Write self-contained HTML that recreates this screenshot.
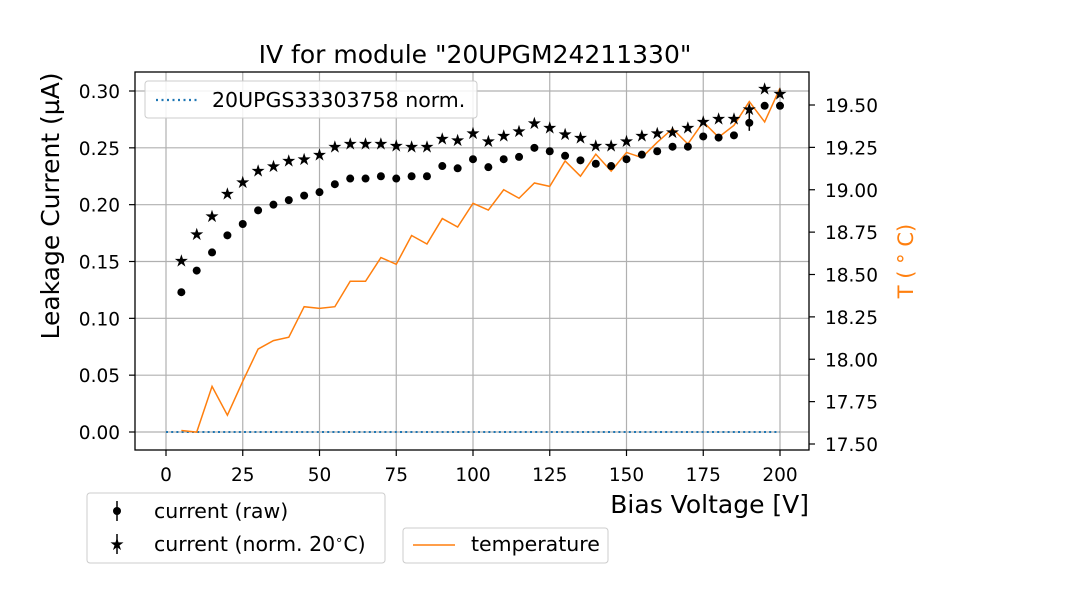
<!DOCTYPE html>
<html><head><meta charset="utf-8"><style>
body{margin:0;background:#fff;}
svg text{font-family:"DejaVu Sans","Liberation Sans",sans-serif;}
</style></head><body>
<svg id="chart" width="1080" height="600" xmlns="http://www.w3.org/2000/svg">
<g id="grid"></g>
<g id="marks"></g>
<g id="axes"></g>
<text x="475" y="63" font-size="25" text-anchor="middle">IV for module "20UPGM24211330"</text>
<text transform="translate(59,206) rotate(-90)" font-size="25" text-anchor="middle">Leakage Current (µA)</text>
<text transform="translate(913,261) rotate(-90)" font-size="21" fill="#ff7f0e" text-anchor="middle">T ( ° C)</text>
<text x="809" y="513" font-size="25" text-anchor="end">Bias Voltage [V]</text>
<g>
<rect x="145" y="81" width="332" height="37" rx="3" fill="#fff" fill-opacity="0.85" stroke="#ccc"/>
<line x1="156" y1="100" x2="198" y2="100" stroke="#1f77b4" stroke-width="2.2" stroke-dasharray="2,3.5"/>
<text x="212" y="107" font-size="20.5">20UPGS33303758 norm.</text>
</g>
<g>
<rect x="87" y="493" width="298" height="70" rx="3" fill="#fff" stroke="#ccc"/>
<line x1="117" y1="501" x2="117" y2="521" stroke="#000" stroke-width="1.5"/>
<circle cx="117" cy="511" r="4" fill="#000"/>
<text x="154" y="518" font-size="20.5">current (raw)</text>
<line x1="117" y1="534" x2="117" y2="554" stroke="#000" stroke-width="1.5"/>
<text x="117" y="550" font-size="17" text-anchor="middle">★</text>
<text x="154" y="551" font-size="20.5">current (norm. 20<tspan font-size="13" dy="-7">∘</tspan><tspan dy="7">C)</tspan></text>
</g>
<g>
<rect x="403" y="528" width="205" height="35" rx="3" fill="#fff" stroke="#ccc"/>
<line x1="413" y1="545" x2="455" y2="545" stroke="#ff7f0e" stroke-width="1.5"/>
<text x="471" y="551" font-size="20.5">temperature</text>
</g>
</svg>
<script>
const voltages=[5,10,15,20,25,30,35,40,45,50,55,60,65,70,75,80,85,90,95,100,105,110,115,120,125,130,135,140,145,150,155,160,165,170,175,180,185,190,195,200];
const rawCurrent=[0.123,0.142,0.158,0.173,0.183,0.195,0.200,0.204,0.208,0.211,0.218,0.223,0.223,0.225,0.223,0.225,0.225,0.234,0.232,0.240,0.233,0.240,0.242,0.250,0.247,0.243,0.239,0.236,0.234,0.240,0.244,0.247,0.251,0.251,0.260,0.259,0.261,0.272,0.287,0.287];
const normCurrent=[0.151,0.174,0.190,0.210,0.220,0.230,0.234,0.239,0.240,0.244,0.251,0.254,0.254,0.254,0.252,0.251,0.251,0.258,0.257,0.263,0.256,0.261,0.265,0.272,0.268,0.262,0.259,0.252,0.252,0.256,0.261,0.263,0.264,0.268,0.273,0.276,0.276,0.284,0.302,0.298];
const temperature=[17.58,17.57,17.84,17.67,17.87,18.06,18.11,18.13,18.31,18.30,18.31,18.46,18.46,18.60,18.56,18.73,18.68,18.83,18.78,18.92,18.88,19.00,18.95,19.04,19.02,19.17,19.08,19.21,19.11,19.22,19.19,19.28,19.36,19.27,19.40,19.31,19.38,19.52,19.40,19.60];
const refVoltages=[0,200];
const refCurrent=[0,0];
const xTicks=[0,25,50,75,100,125,150,175,200];
const yTicks=[0,0.05,0.10,0.15,0.20,0.25,0.30];
const y2Ticks=[17.5,17.75,18.0,18.25,18.5,18.75,19.0,19.25,19.5];
const L=135,R=809,T=72,B=450;
const xS=v=>166+(v-0)*(780-166)/200;
const yS=v=>432-v*(432-91)/0.30;
const y2S=v=>444-(v-17.5)*(444-105)/2.0;
const NS="http://www.w3.org/2000/svg";
function mk(tag,attrs,parent){const e=document.createElementNS(NS,tag);for(const k in attrs)e.setAttribute(k,attrs[k]);document.getElementById(parent).appendChild(e);return e;}
xTicks.forEach(t=>{const x=xS(t);
const g=mk('line',{x1:x,x2:x,y1:T,y2:B,stroke:'#b0b0b0','stroke-width':1.2},'grid');


mk('line',{x1:x,x2:x,y1:B,y2:B+6,stroke:'#000','stroke-width':1.2},'axes');
const tx=mk('text',{x:x,y:B+31,'font-size':18.5,'text-anchor':'middle'},'axes');tx.textContent=t;

});
yTicks.forEach(t=>{const y=yS(t);
const g=mk('line',{x1:L,x2:R,y1:y,y2:y,stroke:'#b0b0b0','stroke-width':1.2},'grid');


mk('line',{x1:L-6,x2:L,y1:y,y2:y,stroke:'#000','stroke-width':1.2},'axes');
const tx=mk('text',{x:L-15,y:y+7,'font-size':18.5,'text-anchor':'end'},'axes');tx.textContent=t.toFixed(2);

});
y2Ticks.forEach(t=>{const y=y2S(t);
mk('line',{x1:R,x2:R+6,y1:y,y2:y,stroke:'#000','stroke-width':1.2},'axes');
const tx=mk('text',{x:R+16,y:y+7,'font-size':18.5},'axes');tx.textContent=t.toFixed(2);

});
const fr=mk('rect',{x:L,y:T,width:R-L,height:B-T,fill:'none',stroke:'#000','stroke-width':1.3},'axes');


const ref=mk('line',{x1:xS(refVoltages[0]),x2:xS(refVoltages[1]),y1:yS(refCurrent[0]),y2:yS(refCurrent[1]),stroke:'#1f77b4','stroke-width':2,'stroke-dasharray':'2,3.2'},'marks');


const tl=mk('polyline',{points:voltages.map((v,i)=>xS(v)+','+y2S(temperature[i])).join(' '),fill:'none',stroke:'#ff7f0e','stroke-width':1.5},'marks');


const ei=voltages.indexOf(190);
const eb=mk('line',{x1:xS(190),x2:xS(190),y1:yS(rawCurrent[ei])-12,y2:yS(rawCurrent[ei])+8,stroke:'#000','stroke-width':1.5},'marks');


voltages.forEach((v,i)=>{
const c=mk('circle',{cx:xS(v),cy:yS(rawCurrent[i]),r:4,fill:'#000'},'marks');


const s=mk('text',{x:xS(v),y:yS(normCurrent[i])+6,'font-size':17,'text-anchor':'middle'},'marks');s.textContent='★';


});
</script>
</body></html>
